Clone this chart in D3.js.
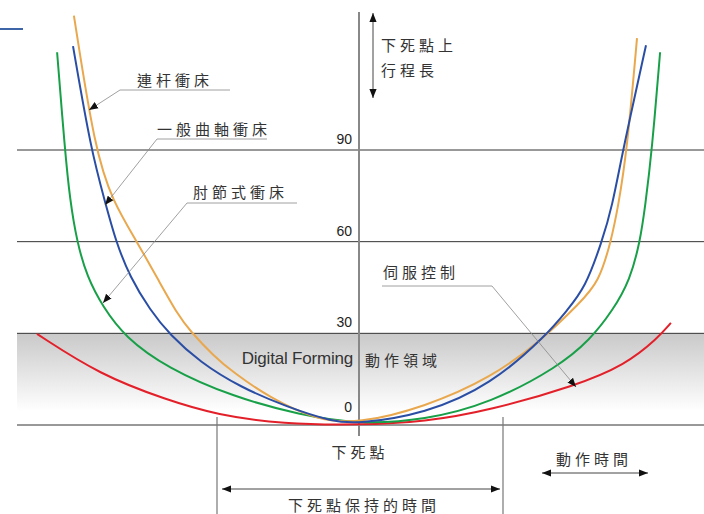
<!doctype html>
<html>
<head>
<meta charset="utf-8">
<script src="https://d3js.org/d3.v7.min.js"></script>
<style>
  body { margin: 0; background: #fff; }
  text { font-family: "Noto Sans CJK TC", "Noto Sans", sans-serif; }
</style>
</head>
<body>
<script>
// stroke position (0 = bottom dead centre) against time
var linkPress = [[-94.7,134],[-87.7,90],[-81.7,73],[-73.7,60],[-66,46.5],[-60,36],[-56,30.8],[-48,22.5],[-41.7,17.3],[-29.3,8.8],[-13.7,1.6],[0,0.4],
  [22.3,5.9],[44.3,15.4],[61.3,27.8],[74,40],[80.3,46.8],[84.3,60],[86.7,71.3],[89.7,90],[93,126.6]];
var crankPress = [[-95,124],[-89,90],[-84.3,73],[-80.7,60],[-76,48.4],[-69.3,37.6],[-62.7,29.5],[-52.7,20.6],[-39.3,12.4],[-23.7,5.9],[-8.3,1],[0,0.4],
  [22.3,3.6],[44.3,13.1],[63,29.5],[69.7,37.6],[75.7,44.8],[81.3,60],[84.7,71.3],[88.3,90],[96,124.3]];
var knucklePress = [[-100.3,122],[-97.7,90],[-96,73.6],[-93.7,60],[-90.3,48.4],[-85,38.6],[-77.7,28.8],[-63.7,18.7],[-41.7,9.2],[-19.3,3.3],[0,0.3],
  [22.3,1.6],[44.3,7.2],[66.7,19],[77.3,27.8],[85,37.6],[90.7,47.5],[94,60],[95.7,71.3],[98,90],[100.7,122]];
var servoPress = [[-107,29.8],[-86,16.4],[-63.7,8.2],[-47,3.3],[-25,0.3],[0,0],
  [22.3,1],[44.3,4.9],[72.3,12.8],[89,19.6],[100,28.5],[104.3,33.4]];
var yTicks = [0, 30, 60, 90];

var W = 704, H = 514;
var svg = d3.select("body").append("svg").attr("width", W).attr("height", H);

var x = d3.scaleLinear().domain([-100, 100]).range([58, 658]);
var y = d3.scaleLinear().domain([0, 90]).range([425, 150]);

var defs = svg.append("defs");
var grad = defs.append("linearGradient").attr("id", "band").attr("x1", 0).attr("y1", 0).attr("x2", 0).attr("y2", 1);
grad.append("stop").attr("offset", "0%").attr("stop-color", "#c9c9c9");
grad.append("stop").attr("offset", "85%").attr("stop-color", "#ffffff");
defs.append("marker").attr("id", "tip").attr("viewBox", "0 0 10 10").attr("refX", 10).attr("refY", 5)
  .attr("markerWidth", 9).attr("markerHeight", 9).attr("markerUnits", "userSpaceOnUse").attr("orient", "auto-start-reverse")
  .append("path").attr("d", "M0,1L10,5L0,9Z").attr("fill", "#111");

// digital forming band
svg.append("rect").attr("x", 17).attr("y", y(30)).attr("width", W - 17).attr("height", y(0) - y(30)).attr("fill", "url(#band)");

// grid lines
svg.selectAll(".grid").data(yTicks).enter().append("line")
  .attr("x1", 17).attr("x2", W).attr("y1", d => y(d)).attr("y2", d => y(d))
  .attr("stroke", "#333").attr("stroke-width", 1);
svg.selectAll(".tick").data(yTicks).enter().append("text")
  .attr("x", 352).attr("y", d => y(d) - (d == 0 ? 13 : 6)).attr("text-anchor", "end")
  .style("font-family", "Arial, 'Liberation Sans', sans-serif").attr("font-size", 14).attr("fill", "#222")
  .text(d => d);

// centre axis
svg.append("line").attr("x1", x(0) + 1).attr("x2", x(0) + 1).attr("y1", 12).attr("y2", 436)
  .attr("stroke", "#888").attr("stroke-width", 2);

// little blue dash at top left
svg.append("line").attr("x1", 0).attr("x2", 23).attr("y1", 29).attr("y2", 29).attr("stroke", "#3d65a8").attr("stroke-width", 2);

// curves
var line = d3.line().x(d => x(d[0])).y(d => y(d[1])).curve(d3.curveBasis);
[[servoPress, "#e3202a"], [knucklePress, "#18a048"], [linkPress, "#e9a84e"], [crankPress, "#2b4ea5"]].forEach(function(s) {
  svg.append("path").attr("d", line(s[0])).attr("fill", "none").attr("stroke", s[1]).attr("stroke-width", 2);
});

function label(t, tx, ty, size, anchor) {
  return svg.append("text").attr("x", tx).attr("y", ty).attr("font-size", size || 15)
    .attr("letter-spacing", 4).attr("fill", "#333").attr("text-anchor", anchor || "start").text(t);
}
function leader(pts) {
  svg.append("polyline").attr("points", pts.map(p => p.join(",")).join(" "))
    .attr("fill", "none").attr("stroke", "#888").attr("stroke-width", 0.8).attr("marker-end", "url(#tip)");
}

label("連杆衝床", 137, 86);
leader([[230, 90], [120, 90], [89, 110]]);
label("一般曲軸衝床", 157, 135);
leader([[267, 139], [157, 139], [105, 205]]);
label("肘節式衝床", 193, 198);
leader([[297, 203], [187, 203], [103, 303]]);
label("伺服控制", 383, 278);
leader([[382, 286], [492, 286], [576, 387]]);

// stroke length
label("下死點上", 381, 51);
label("行程長", 381, 76);
svg.append("line").attr("x1", 373).attr("x2", 373).attr("y1", 13).attr("y2", 98)
  .attr("stroke", "#444").attr("stroke-width", 1).attr("marker-start", "url(#tip)").attr("marker-end", "url(#tip)");

svg.append("text").attr("x", 353).attr("y", 364).attr("text-anchor", "end")
  .style("font-family", "Arial, 'Liberation Sans', sans-serif").attr("font-size", 17).attr("letter-spacing", -0.2)
  .attr("fill", "#333").text("Digital Forming");
label("動作領域", 365, 366);

// bottom dead centre dwell
label("下死點", 360, 458, 15, "middle");
[217, 503].forEach(function(px) {
  svg.append("line").attr("x1", px).attr("x2", px).attr("y1", 417).attr("y2", H).attr("stroke", "#777").attr("stroke-width", 1.2);
});
svg.append("line").attr("x1", 222).attr("x2", 500).attr("y1", 489).attr("y2", 489)
  .attr("stroke", "#444").attr("stroke-width", 1).attr("marker-start", "url(#tip)").attr("marker-end", "url(#tip)");
label("下死點保持的時間", 364, 511, 15, "middle");

label("動作時間", 594, 465, 15, "middle");
svg.append("line").attr("x1", 542).attr("x2", 648).attr("y1", 473).attr("y2", 473)
  .attr("stroke", "#444").attr("stroke-width", 1).attr("marker-start", "url(#tip)").attr("marker-end", "url(#tip)");
</script>
</body>
</html>
